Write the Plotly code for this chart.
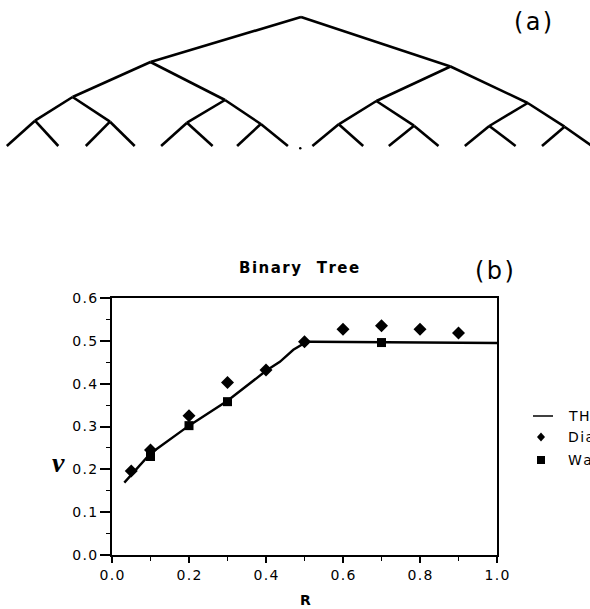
import plotly.graph_objects as go

# ---- data (panel b) ----
theory_x = [0.032, 0.10, 0.20, 0.30, 0.40, 0.436, 0.471, 0.506, 0.52, 1.0]
theory_y = [0.169, 0.237, 0.302, 0.360, 0.430, 0.451, 0.479, 0.498, 0.498, 0.495]
diamond_x = [0.05, 0.10, 0.20, 0.30, 0.40, 0.50, 0.60, 0.70, 0.80, 0.90]
diamond_y = [0.196, 0.245, 0.325, 0.403, 0.432, 0.498, 0.527, 0.535, 0.527, 0.518]
square_x = [0.10, 0.20, 0.30, 0.70]
square_y = [0.230, 0.302, 0.358, 0.496]
legend_names = ["THEORY", "Diamond", "Wang"]
x_ticks = [0, 0.2, 0.4, 0.6, 0.8, 1.0]
y_ticks = [0, 0.1, 0.2, 0.3, 0.4, 0.5, 0.6]

# ---- tree drawing (panel a), node positions in page pixels ----
tree_root = (301, 17)
tree_l1 = [(150.5, 62), (450.5, 66.5)]
tree_l2 = [(72.6, 97), (225, 100), (376.4, 101), (527.7, 103)]
tree_l3 = [(35, 120.7), (110, 121.7), (187, 122.7), (260.8, 124),
           (338.7, 124.3), (414, 125.7), (489.3, 126), (564.5, 126.7)]
tree_leaves = [6.8, 58.3, 85.8, 134.7, 161.1, 212.6, 237.1, 287.9,
               312.4, 363.2, 388.8, 438.5, 464.8, 515.6, 542, 592]
leaf_y = 146

W, H = 590, 609
L, R, T, B = 112, 93, 298, 54
pw, ph = W - L - R, H - T - B
HS = "\u200a"  # hair space used for letter spacing


def spaced(s):
    return HS.join(list(s))


def px(x):
    return (x - L) / pw


def py(y):
    return (H - B - y) / ph


fig = go.Figure()
fig.add_trace(go.Scatter(x=theory_x, y=theory_y, mode="lines",
                         line=dict(color="black", width=2.4), showlegend=False))
fig.add_trace(go.Scatter(x=diamond_x, y=diamond_y, mode="markers",
                         marker=dict(symbol="diamond", size=10, color="black"),
                         showlegend=False))
fig.add_trace(go.Scatter(x=square_x, y=square_y, mode="markers",
                         marker=dict(symbol="square", size=9, color="black"),
                         showlegend=False))

shapes = []


def seg(a, b):
    shapes.append(dict(type="line", xref="paper", yref="paper",
                       x0=px(a[0]), y0=py(a[1]), x1=px(b[0]), y1=py(b[1]),
                       line=dict(color="black", width=2.6)))


for c in tree_l1:
    seg(tree_root, c)
for i, c in enumerate(tree_l2):
    seg(tree_l1[i // 2], c)
for i, c in enumerate(tree_l3):
    seg(tree_l2[i // 2], c)
for i, lx in enumerate(tree_leaves):
    seg(tree_l3[i // 2], (lx, leaf_y))

# small dot at centre bottom of tree
shapes.append(dict(type="circle", xref="paper", yref="paper",
                   x0=px(299), x1=px(301.5), y0=py(147), y1=py(149.5),
                   fillcolor="black", line=dict(width=0)))

# legend glyphs
shapes.append(dict(type="line", xref="paper", yref="paper",
                   x0=px(533), x1=px(553), y0=py(416), y1=py(416),
                   line=dict(color="black", width=1.5)))
shapes.append(dict(type="path", xref="paper", yref="paper",
                   path=f"M {px(541)} {py(432.5)} L {px(545)} {py(437)} L {px(541)} {py(441.5)} L {px(537)} {py(437)} Z",
                   fillcolor="black", line=dict(width=0)))
shapes.append(dict(type="rect", xref="paper", yref="paper",
                   x0=px(537), x1=px(545), y0=py(456), y1=py(464),
                   fillcolor="black", line=dict(width=0)))

ann = []
for name, yy in zip(legend_names, [416, 437, 460]):
    ann.append(dict(text=spaced(name), xref="paper", yref="paper", x=px(566), y=py(yy),
                    xanchor="left", yanchor="middle", showarrow=False,
                    font=dict(size=14, color="black", family="DejaVu Sans")))
ann.append(dict(text=spaced("(a)"), xref="paper", yref="paper", x=px(533), y=py(22),
                xanchor="center", yanchor="middle", showarrow=False,
                font=dict(size=24, color="black", family="DejaVu Sans")))
ann.append(dict(text=spaced("(b)"), xref="paper", yref="paper", x=px(494), y=py(271),
                xanchor="center", yanchor="middle", showarrow=False,
                font=dict(size=24, color="black", family="DejaVu Sans")))
ann.append(dict(text="<b>" + spaced("Binary") + "   " + spaced("Tree") + "</b>",
                xref="paper", yref="paper", x=px(299), y=py(268),
                xanchor="center", yanchor="middle", showarrow=False,
                font=dict(size=15, color="black", family="DejaVu Sans")))
ann.append(dict(text="<b><i>ν</i></b>", xref="paper", yref="paper", x=px(58), y=py(462),
                xanchor="center", yanchor="middle", showarrow=False,
                font=dict(size=28, color="black", family="Liberation Serif")))
ann.append(dict(text="<b>R</b>", xref="paper", yref="paper", x=px(305), y=py(600),
                xanchor="center", yanchor="middle", showarrow=False,
                font=dict(size=14, color="black", family="DejaVu Sans")))

tickfont = dict(size=14, color="black", family="DejaVu Sans")
fig.update_layout(
    width=W, height=H,
    margin=dict(l=L, r=R, t=T, b=B, autoexpand=False),
    paper_bgcolor="white", plot_bgcolor="white",
    shapes=shapes, annotations=ann, showlegend=False,
    xaxis=dict(range=[0, 1], tickvals=x_ticks,
               ticktext=[spaced(f"{v:.1f}") for v in x_ticks],
               ticks="outside", ticklen=6, tickwidth=1.6, tickcolor="black",
               minor=dict(tickvals=[0.1, 0.3, 0.5, 0.7, 0.9], ticks="outside",
                          ticklen=4, tickwidth=1.4, tickcolor="black"),
               showline=True, linecolor="black", linewidth=2, mirror=True,
               showgrid=False, zeroline=False, tickfont=tickfont),
    yaxis=dict(range=[0, 0.6], tickvals=y_ticks,
               ticktext=[spaced(f"{v:.1f}") for v in y_ticks],
               ticks="outside", ticklen=10, tickwidth=1.6, tickcolor="black",
               minor=dict(tickvals=[0.05, 0.15, 0.25, 0.35, 0.45, 0.55], ticks="outside",
                          ticklen=4, tickwidth=1.4, tickcolor="black"),
               showline=True, linecolor="black", linewidth=2, mirror=True,
               showgrid=False, zeroline=False, tickfont=tickfont),
)

fig.write_html("out.html")
